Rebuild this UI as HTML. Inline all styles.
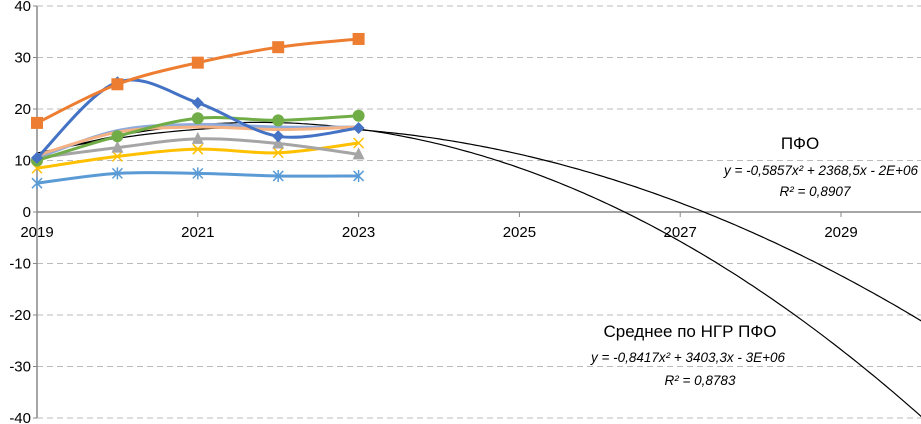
<!DOCTYPE html>
<html><head><meta charset="utf-8"><style>
html,body{margin:0;padding:0;background:#fff;}
svg{display:block;font-family:"Liberation Sans",sans-serif;}
</style></head><body>
<svg id="chart" width="921" height="424">
<g id="grid"></g><g id="axes"></g><g id="trends"></g><g id="series"></g><g id="labels"></g>
</svg>
<script>
const years=[2019,2020,2021,2022,2023];
const sBlue=[10.5,25.2,21.2,14.7,16.3];
const sOrange=[17.3,24.8,29.0,32.0,33.6];
const sGreen=[10.0,14.7,18.2,17.8,18.7];
const sGrey=[10.5,12.5,14.2,13.3,11.2];
const sYellow=[8.5,10.8,12.2,11.5,13.4];
const sLight=[5.6,7.5,7.5,7.0,7.0];
const sPurple=[10.5,15.8,17.0,16.5,16.5];
const sPink=[11.0,15.5,16.5,16.0,16.5];
const yTicks=[40,30,20,10,0,-10,-20,-30,-40];
const xTicks=[2019,2021,2023,2025,2027,2029];
const trend1=[-0.5857,2021.97,16.6];
const trend2=[-0.8417,2021.76,17.4];
const NS='http://www.w3.org/2000/svg';
const X=v=>37+(v-2019)*80.4;
const Y=v=>212-v*5.15;
function mk(t,a,p){const e=document.createElementNS(NS,t);for(const k in a)e.setAttribute(k,a[k]);p.appendChild(e);return e;}
const grid=document.getElementById('grid'),axes=document.getElementById('axes');
yTicks.forEach(t=>{
 if(t!==0){const l=mk('line',{x1:37,x2:921,y1:Y(t),y2:Y(t),stroke:'#bbb','stroke-dasharray':'6,4'},grid);
 
 }
 const tx=mk('text',{x:31,y:Y(t)+5,'text-anchor':'end','font-size':15,fill:'#000'},axes);tx.textContent=t;
 
 
 mk('line',{x1:33,x2:37,y1:Y(t),y2:Y(t),stroke:'#888'},axes);
});
const ya=mk('line',{x1:37,x2:37,y1:Y(40),y2:Y(-40),stroke:'#888','stroke-width':1.5},axes);


const xa=mk('line',{x1:37,x2:921,y1:Y(0),y2:Y(0),stroke:'#888','stroke-width':1.5},axes);


xTicks.forEach(t=>{
 mk('line',{x1:X(t),x2:X(t),y1:Y(0),y2:Y(0)+5,stroke:'#888'},axes);
 const tx=mk('text',{x:X(t),y:Y(0)+25,'text-anchor':'middle','font-size':15,fill:'#000'},axes);tx.textContent=t;
 
 
});
const tr=document.getElementById('trends');
[trend1,trend2].forEach((q,i)=>{
 let d='';for(let x=2019;x<=2030.01;x+=0.05){const v=q[0]*(x-q[1])**2+q[2];d+=(d?'L':'M')+X(x).toFixed(1)+','+Y(v).toFixed(1);}
 const p=mk('path',{d,fill:'none',stroke:'#000','stroke-width':1.2},tr);
 
 
});
function smooth(vals){const pts=vals.map((v,i)=>[X(years[i]),Y(v)]);let d='M'+pts[0];
 for(let i=0;i<pts.length-1;i++){const p0=pts[Math.max(0,i-1)],p1=pts[i],p2=pts[i+1],p3=pts[Math.min(pts.length-1,i+2)];
 const c1=[p1[0]+(p2[0]-p0[0])/6,p1[1]+(p2[1]-p0[1])/6],c2=[p2[0]-(p3[0]-p1[0])/6,p2[1]-(p3[1]-p1[1])/6];
 d+='C'+c1+' '+c2+' '+p2;}return d;}
const sg=document.getElementById('series');
const defs=[[sPurple,'#8faadc','none','series-purple'],[sPink,'#f4b183','none','series-pink'],[sLight,'#5b9bd5','star','series-light-blue'],[sYellow,'#ffc000','x','series-yellow'],[sGrey,'#a5a5a5','tri','series-grey'],[sGreen,'#70ad47','circ','series-green'],[sBlue,'#4472c4','dia','series-blue'],[sOrange,'#ed7d31','sq','series-orange']];
defs.forEach(([vals,c,m,n])=>{
 const g=mk('g',{},sg);
 
 
 mk('path',{d:smooth(vals),fill:'none',stroke:c,'stroke-width':3},g);
 vals.forEach((v,i)=>{const x=X(years[i]),y=Y(v);
  if(m==='sq')mk('rect',{x:x-6,y:y-6,width:12,height:12,fill:c},g);
  else if(m==='circ')mk('circle',{cx:x,cy:y,r:6,fill:c},g);
  else if(m==='dia')mk('path',{d:`M${x},${y-6}L${x+6},${y}L${x},${y+6}L${x-6},${y}Z`,fill:c},g);
  else if(m==='tri')mk('path',{d:`M${x},${y-7}L${x+6},${y+5}L${x-6},${y+5}Z`,fill:c},g);
  else if(m==='x')mk('path',{d:`M${x-5},${y-5}L${x+5},${y+5}M${x+5},${y-5}L${x-5},${y+5}`,stroke:c,'stroke-width':1.5},g);
  else if(m==='star')mk('path',{d:`M${x-5},${y-5}L${x+5},${y+5}M${x+5},${y-5}L${x-5},${y+5}M${x},${y-6}L${x},${y+6}`,stroke:c,'stroke-width':1.5},g);
 });
});
</script>
<svg style="position:absolute;left:0;top:0" width="921" height="424">
<text x="800" y="149" text-anchor="middle" font-size="17">ПФО</text>
<text x="918" y="175" text-anchor="end" font-size="13.5" font-style="italic">y = -0,5857x² + 2368,5x - 2E+06</text>
<text x="815" y="196" text-anchor="middle" font-size="13.5" font-style="italic">R² = 0,8907</text>
<text x="690" y="337" text-anchor="middle" font-size="17">Среднее по НГР ПФО</text>
<text x="688" y="362" text-anchor="middle" font-size="13.5" font-style="italic">y = -0,8417x² + 3403,3x - 3E+06</text>
<text x="700" y="385" text-anchor="middle" font-size="13.5" font-style="italic">R² = 0,8783</text>
</svg>
</body></html>
